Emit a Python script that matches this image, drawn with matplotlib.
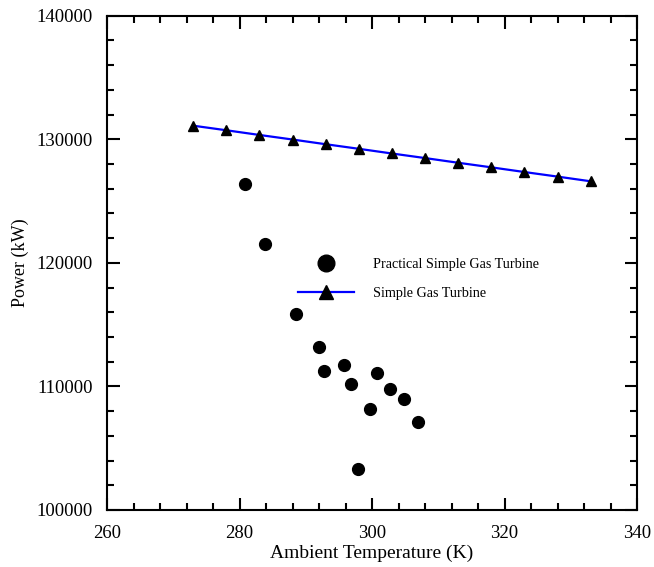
import matplotlib.pyplot as plt
from matplotlib.lines import Line2D
from matplotlib.ticker import MultipleLocator

plt.rcParams['font.family'] = ['Liberation Serif', 'DejaVu Serif']

# Simple gas turbine (model)
sim_temp = [273, 278, 283, 288, 293, 298, 303, 308, 313, 318, 323, 328, 333]
sim_power = [131100, 130730, 130350, 129980, 129600, 129230, 128850,
             128480, 128100, 127730, 127350, 126980, 126600]

# Practical simple gas turbine (measured)
prac_temp = [280.8, 283.8, 288.5, 292.0, 292.7, 295.8, 296.8, 300.8,
             302.7, 304.8, 299.7, 306.9, 297.9]
prac_power = [126360, 121550, 115850, 113170, 111280, 111715, 110230,
              111120, 109770, 109010, 108160, 107100, 103300]

fig = plt.figure(figsize=(6.54, 5.67), dpi=100)
ax = fig.add_axes([107 / 654, 1 - 510 / 567, 530 / 654, 494.3 / 567])

ax.plot(prac_temp, prac_power, 'o', color='black', markersize=8.5)
ax.plot(sim_temp, sim_power, '-', color='#0000ff', linewidth=1.6)
ax.plot(sim_temp, sim_power, '^', color='black', markersize=7.5)

ax.set_xlim(260, 340)
ax.set_ylim(100000, 140000)
ax.xaxis.set_major_locator(MultipleLocator(20))
ax.xaxis.set_minor_locator(MultipleLocator(4))
ax.yaxis.set_major_locator(MultipleLocator(10000))
ax.yaxis.set_minor_locator(MultipleLocator(2000))
ax.tick_params(which='both', direction='in', top=True, right=True,
               width=1.5, labelsize=13.5)
ax.tick_params(axis='x', pad=11)
ax.tick_params(axis='y', pad=10)
ax.tick_params(which='major', length=9)
ax.tick_params(which='minor', length=5)
for s in ax.spines.values():
    s.set_linewidth(1.5)

ax.set_xlabel('Ambient Temperature (K)', fontsize=14, labelpad=2)
ax.set_ylabel('Power (kW)', fontsize=13, labelpad=6)

handles = [
    Line2D([], [], linestyle='none', marker='o', color='black', markersize=12),
    Line2D([], [], color='#0000ff', linewidth=1.6, marker='^',
           markerfacecolor='black', markeredgecolor='black', markersize=9.5),
]
ax.legend(handles, ['Practical Simple Gas Turbine', 'Simple Gas Turbine'],
          loc='center left', bbox_to_anchor=(0.336, 0.467), frameon=False,
          fontsize=10.2, handlelength=4, handletextpad=1.3, labelspacing=1.15)

fig.savefig('out.png', dpi=100)
